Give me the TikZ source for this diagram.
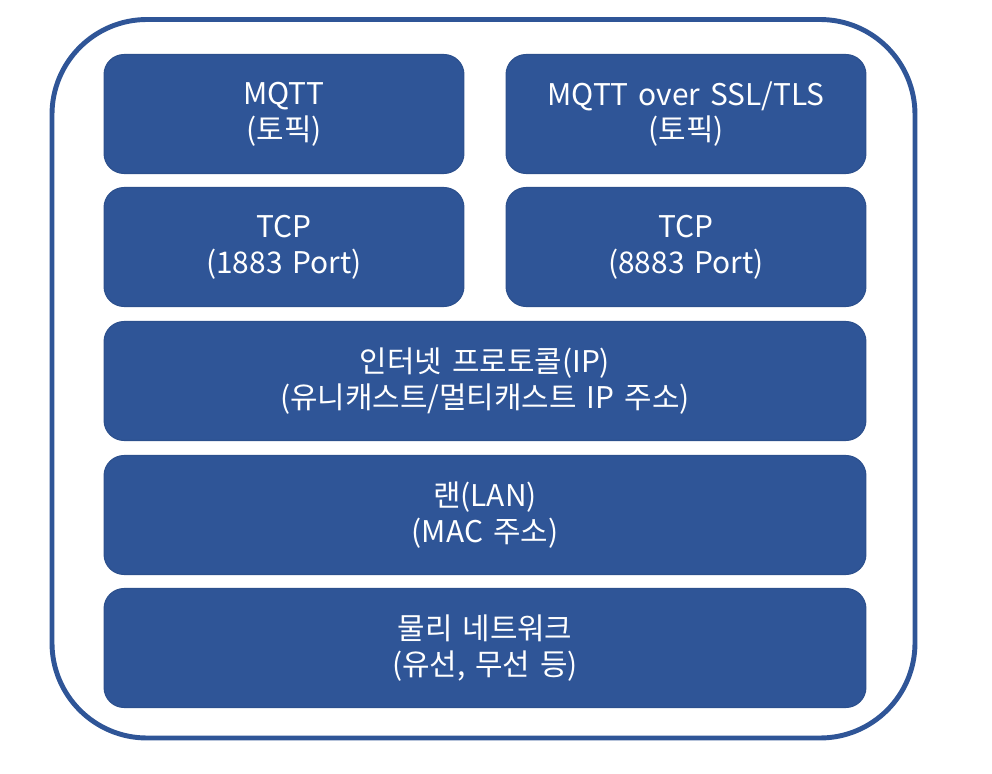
\documentclass[tikz,border=0pt]{standalone}
\usepackage{fontspec}
\setmainfont[WordSpace=1.5]{Noto Sans CJK KR}
\usetikzlibrary{positioning}
\definecolor{layerblue}{HTML}{2F5597}
\definecolor{layeredge}{HTML}{2C508D}
\tikzset{
  /tikz/.cd,
  layer/.style={draw=layeredge,line width=0.6pt,fill=layerblue,text=white,rounded corners=0.4cm,
    align=center,font=\fontsize{17}{20.4}\selectfont,minimum height=2.38cm,minimum width=7.2cm,inner sep=0pt},
  widelayer/.style={layer,minimum width=15.24cm}
}

\begin{document}
\begin{tikzpicture}[x=0.02cm,y=-0.02cm]
  \useasboundingbox (0,0) rectangle (992,774);
  \draw[layerblue,line width=2.8pt,rounded corners=1.9cm] (52,19.5) rectangle (915,738);

  \node[layer] (mqtt) at (284,114) {MQTT\\(토픽)};
  \node[layer] (mqtts) at (686,114) {MQTT over SSL/TLS\\(토픽)};
  \node[layer] (tcpa) at (284,247) {TCP\\(1883 Port)};
  \node[layer] (tcpb) at (686,247) {TCP\\(8883 Port)};

  \node[widelayer] (ip) at (485,381) {인터넷 프로토콜(IP)\\(유니캐스트/멀티캐스트 IP 주소)};
  \node[widelayer] (lan) at (485,515) {랜(LAN)\\(MAC 주소)};
  \node[widelayer] (phy) at (485,648) {물리 네트워크\\(유선, 무선 등)};
\end{tikzpicture}
\end{document}
